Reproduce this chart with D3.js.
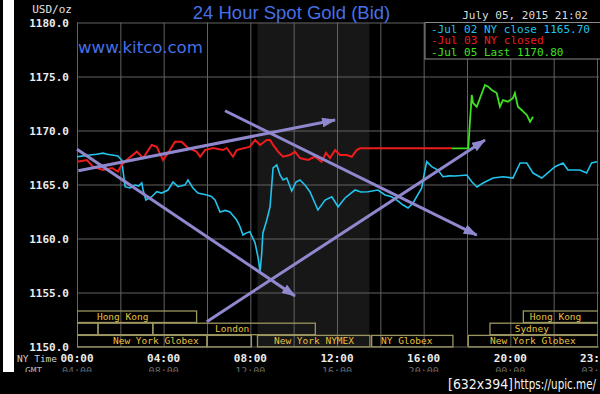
<!DOCTYPE html>
<html>
<head>
<meta charset="utf-8">
<script src="https://cdn.jsdelivr.net/npm/d3@7"></script>
<style>
  html, body { margin: 0; padding: 0; background: #000; }
  svg { display: block; }
</style>
</head>
<body>
<script>
const width = 600;
const height = 394;

// price axis and time axis
const priceTicks = [1150, 1155, 1160, 1165, 1170, 1175, 1180];
const gridHours = [0, 2, 4, 6, 8, 10, 12, 14, 16, 18, 20, 22, 24];
const timeTicks = [0, 4, 8, 12, 16, 20, 23.983];
const nyTimeLabels = ['00:00', '04:00', '08:00', '12:00', '16:00', '20:00', '23:59'];
const gmtLabels = ['04:00', '08:00', '12:00', '16:00', '20:00', '00:00', '03:59'];
const nymexHours = [8.33, 13.5];

// [hour (NY time), price]
const jul02 = [
  [0.00, 1167.57], [0.30, 1167.65], [0.60, 1167.73], [0.90, 1167.80], [1.20, 1167.90],
  [1.40, 1167.80], [1.62, 1167.73], [1.89, 1167.64], [2.06, 1167.27], [2.12, 1166.34],
  [2.22, 1164.80], [2.45, 1164.68], [2.68, 1164.95], [2.85, 1164.85], [2.99, 1165.14],
  [3.05, 1164.49], [3.18, 1163.56], [3.45, 1163.87], [3.68, 1164.33], [3.91, 1164.21],
  [4.20, 1164.49], [4.43, 1165.23], [4.66, 1164.80], [4.98, 1164.95], [5.12, 1165.42],
  [5.35, 1164.68], [5.58, 1164.21], [5.99, 1164.03], [6.20, 1163.90], [6.37, 1163.56],
  [6.60, 1162.45], [6.85, 1162.60], [7.06, 1162.45], [7.37, 1161.71], [7.50, 1161.20],
  [7.66, 1160.32], [7.80, 1160.50], [7.98, 1160.63], [8.22, 1159.58], [8.35, 1158.31],
  [8.45, 1156.99], [8.52, 1158.47], [8.58, 1160.51], [8.76, 1161.71], [8.91, 1162.94],
  [9.05, 1166.53], [9.22, 1166.81], [9.37, 1165.88], [9.51, 1165.42], [9.68, 1165.60],
  [9.91, 1164.40], [10.11, 1165.23], [10.29, 1165.42], [10.52, 1164.95], [10.75, 1164.33],
  [11.12, 1162.64], [11.45, 1163.56], [11.76, 1163.87], [12.05, 1162.94], [12.37, 1163.75],
  [12.83, 1164.49], [13.10, 1164.30], [13.43, 1164.33], [13.89, 1164.49], [14.22, 1164.03],
  [14.52, 1163.87], [14.76, 1163.56], [15.05, 1163.10], [15.28, 1162.82], [15.51, 1163.29],
  [15.91, 1164.68], [16.06, 1166.34], [16.14, 1167.11], [16.37, 1166.65], [16.66, 1166.34],
  [16.89, 1165.72], [17.20, 1165.80], [17.45, 1165.79], [17.99, 1165.88], [18.22, 1165.26],
  [18.46, 1164.77], [18.74, 1165.14], [19.20, 1165.60], [19.66, 1165.72], [20.12, 1165.60],
  [20.45, 1166.99], [20.76, 1166.99], [21.05, 1166.06], [21.45, 1165.60], [22.06, 1166.65],
  [22.43, 1166.99], [22.66, 1166.34], [23.21, 1166.34], [23.52, 1166.06], [23.75, 1166.99],
  [24.00, 1167.11]
];

const jul03 = [
  [0.00, 1167.11], [0.45, 1167.27], [0.74, 1166.65], [1.20, 1166.34], [1.62, 1166.53],
  [1.89, 1166.19], [2.06, 1166.81], [2.29, 1167.27], [2.76, 1168.04], [3.05, 1167.45],
  [3.45, 1168.66], [3.68, 1168.50], [3.97, 1167.27], [4.20, 1167.92], [4.52, 1168.96],
  [4.83, 1168.96], [5.12, 1168.38], [5.52, 1168.04], [5.68, 1167.57], [5.91, 1168.19],
  [6.28, 1168.38], [6.74, 1168.19], [6.91, 1168.38], [7.20, 1167.57], [7.37, 1168.19],
  [7.98, 1168.50], [8.22, 1169.12], [8.45, 1168.66], [8.76, 1169.12], [8.91, 1169.12],
  [9.05, 1168.66], [9.28, 1168.04], [9.51, 1167.57], [9.83, 1167.73], [10.06, 1168.04],
  [10.29, 1167.45], [10.66, 1167.27], [10.98, 1167.57], [11.29, 1167.11], [11.49, 1167.92],
  [11.68, 1167.45], [11.91, 1168.19], [12.14, 1167.73], [12.45, 1167.73], [12.68, 1167.57],
  [12.91, 1168.19], [13.06, 1168.35], [17.29, 1168.35]
];

const jul05 = [
  [17.29, 1168.35], [18.06, 1168.35], [18.14, 1170.97], [18.22, 1173.29], [18.28, 1172.55],
  [18.45, 1172.20], [18.60, 1173.00], [18.83, 1174.21], [18.98, 1174.06], [19.14, 1173.75],
  [19.37, 1173.47], [19.52, 1172.20], [19.66, 1172.82], [19.89, 1172.67], [20.12, 1173.00],
  [20.21, 1173.47], [20.35, 1172.20], [20.52, 1171.90], [20.76, 1171.44], [20.91, 1170.81],
  [21.05, 1171.28]
];

const legendLabels = ['-Jul 02 NY close 1165.70', '-Jul 03 NY closed', '-Jul 05 Last 1170.80'];
const legendColors = ['#22c3ec', '#ee1c1c', '#3fe022'];

// trading sessions: [row, start hour, end hour, label, label hour]
const sessions = [
  [0, 0, 5.52, 'Hong Kong', 0.92],
  [0, 20.6, 24.2, 'Hong Kong', 20.9],
  [1, 0, 0.97, '', 0],
  [1, 0.97, 3.5, '', 0],
  [1, 3.5, 11.0, 'London', 6.37],
  [1, 19.06, 24.2, 'Sydney', 20.2],
  [2, 0, 6.0, 'New York Globex', 1.66],
  [2, 6.0, 8.05, '', 0],
  [2, 8.33, 13.52, 'New York NYMEX', 9.09],
  [2, 13.6, 17.35, 'NY Globex', 14.03],
  [2, 18.06, 24.2, 'New York Globex', 19.06]
];

// hand drawn arrows: [start hour, start price, end hour, end price]
const arrows = [
  [0.06, 1166.28, 11.91, 1170.97],
  [0.00, 1168.26, 10.06, 1154.68],
  [6.83, 1171.83, 18.45, 1160.32],
  [5.99, 1152.30, 18.83, 1169.12]
];

const margin = { left: 77, right: 597, top: 22.5, bottom: 346.5 };

const x = d3.scaleLinear().domain([0, 24]).range([margin.left, margin.right]);
const y = d3.scaleLinear().domain([1150, 1180]).range([margin.bottom, margin.top]);

const svg = d3.select('body')
  .append('svg')
  .attr('width', width)
  .attr('height', height);

const mono = 'DejaVu Sans Mono, monospace';

// white strip on the left edge of the screenshot
svg.append('rect')
  .attr('x', 3).attr('y', 0)
  .attr('width', 11).attr('height', 372)
  .attr('fill', '#fff');

svg.append('defs').append('clipPath')
  .attr('id', 'plot')
  .append('rect')
  .attr('x', margin.left).attr('y', 0)
  .attr('width', margin.right - margin.left + 1).attr('height', height);

// NYMEX hours shading
svg.append('rect')
  .attr('x', x(nymexHours[0]))
  .attr('y', y(1180))
  .attr('width', x(nymexHours[1]) - x(nymexHours[0]))
  .attr('height', y(1150) - y(1180))
  .attr('fill', '#171717');

// grid
svg.append('g')
  .attr('transform', `translate(0,${margin.bottom})`)
  .call(d3.axisBottom(x).tickValues(gridHours).tickSize(-(margin.bottom - margin.top)).tickFormat(''))
  .call(g => g.select('.domain').remove())
  .call(g => g.selectAll('line').attr('stroke', '#626262'));

svg.append('g')
  .attr('transform', `translate(${margin.left},0)`)
  .call(d3.axisLeft(y).tickValues(priceTicks).tickSize(-(margin.right - margin.left + 2)).tickFormat(''))
  .call(g => g.select('.domain').remove())
  .call(g => g.selectAll('line').attr('stroke', '#626262'));

// price labels
svg.append('g')
  .attr('transform', `translate(${margin.left - 5},0)`)
  .call(d3.axisLeft(y).tickValues(priceTicks).tickSize(0).tickFormat(d3.format('.1f')))
  .call(g => g.select('.domain').remove())
  .call(g => g.selectAll('text')
    .attr('fill', '#ececec')
    .attr('font-family', mono)
    .attr('font-weight', 'bold')
    .attr('font-size', 11));

svg.append('text')
  .attr('x', 72).attr('y', 13)
  .attr('text-anchor', 'end')
  .attr('fill', '#e2e2e2')
  .attr('font-family', mono)
  .attr('font-size', 11)
  .text('USD/oz');

// sessions
const rowTop = r => 311 + r * 12.2;
const sess = svg.append('g').attr('clip-path', 'url(#plot)');
sess.selectAll('rect')
  .data(sessions)
  .join('rect')
  .attr('x', d => x(d[1]))
  .attr('y', d => rowTop(d[0]))
  .attr('width', d => x(d[2]) - x(d[1]))
  .attr('height', 11.5)
  .attr('fill', 'none')
  .attr('stroke', '#9c9660')
  .attr('stroke-width', 1.3);
sess.selectAll('text')
  .data(sessions.filter(d => d[3]))
  .join('text')
  .attr('x', d => x(d[4]))
  .attr('y', d => rowTop(d[0]) + 9)
  .attr('fill', '#e8c040')
  .attr('font-family', mono)
  .attr('font-size', 9.5)
  .text(d => d[3]);

// price lines
const line = d3.line().x(d => x(d[0])).y(d => y(d[1]));
const plot = svg.append('g').attr('clip-path', 'url(#plot)');
plot.append('path').datum(jul02)
  .attr('d', line).attr('fill', 'none')
  .attr('stroke', legendColors[0]).attr('stroke-width', 1.6);
plot.append('path').datum(jul03)
  .attr('d', line).attr('fill', 'none')
  .attr('stroke', legendColors[1]).attr('stroke-width', 2);
plot.append('path').datum(jul05)
  .attr('d', line).attr('fill', 'none')
  .attr('stroke', legendColors[2]).attr('stroke-width', 1.8);

// arrows
svg.select('defs').append('marker')
  .attr('id', 'head')
  .attr('markerUnits', 'userSpaceOnUse')
  .attr('viewBox', '0 0 14 10')
  .attr('refX', 13).attr('refY', 5)
  .attr('markerWidth', 14).attr('markerHeight', 10)
  .attr('orient', 'auto')
  .append('path')
  .attr('d', 'M0,0 L14,5 L0,10 Z')
  .attr('fill', '#8f88cf');

svg.append('g').selectAll('line')
  .data(arrows)
  .join('line')
  .attr('x1', d => x(d[0])).attr('y1', d => y(d[1]))
  .attr('x2', d => x(d[2])).attr('y2', d => y(d[3]))
  .attr('stroke', '#8f88cf')
  .attr('stroke-width', 3)
  .attr('marker-end', 'url(#head)');

// legend
svg.append('rect')
  .attr('x', 425).attr('y', margin.top)
  .attr('width', 180).attr('height', 36.5)
  .attr('fill', '#000')
  .attr('stroke', '#8a8a8a');
svg.append('g').selectAll('text')
  .data(legendLabels)
  .join('text')
  .attr('x', 431)
  .attr('y', (d, i) => 32.5 + i * 11.8)
  .attr('fill', (d, i) => legendColors[i])
  .attr('font-family', mono)
  .attr('font-size', 11)
  .text(d => d);

// titles
svg.append('text')
  .attr('x', 291.5).attr('y', 19)
  .attr('text-anchor', 'middle')
  .attr('fill', '#4670e6')
  .attr('font-family', 'Liberation Sans, Arial, sans-serif')
  .attr('font-size', 18.5)
  .text('24 Hour Spot Gold (Bid)');

svg.append('text')
  .attr('x', 78).attr('y', 53)
  .attr('fill', '#4670e6')
  .attr('font-family', 'DejaVu Sans, sans-serif')
  .attr('font-size', 16.6)
  .text('www.kitco.com');

svg.append('text')
  .attr('x', 588).attr('y', 18.5)
  .attr('text-anchor', 'end')
  .attr('fill', '#dcdcdc')
  .attr('font-family', mono)
  .attr('font-size', 11)
  .text('July 05, 2015 21:02');

// time labels
svg.append('g').selectAll('text')
  .data(timeTicks)
  .join('text')
  .attr('x', d => x(d))
  .attr('y', 362)
  .attr('text-anchor', 'middle')
  .attr('fill', '#ececec')
  .attr('font-family', mono)
  .attr('font-weight', 'bold')
  .attr('font-size', 11)
  .text((d, i) => nyTimeLabels[i]);

svg.append('g').selectAll('text')
  .data(timeTicks)
  .join('text')
  .attr('x', d => x(d))
  .attr('y', 375)
  .attr('text-anchor', 'middle')
  .attr('fill', '#6a6a6a')
  .attr('font-family', mono)
  .attr('font-size', 10)
  .text((d, i) => gmtLabels[i]);

svg.append('text')
  .attr('x', 17).attr('y', 362)
  .attr('fill', '#d0d0d0')
  .attr('font-family', mono)
  .attr('font-size', 9.5)
  .text('NY Time');

svg.append('text')
  .attr('x', 25).attr('y', 374)
  .attr('fill', '#b0b0b0')
  .attr('font-family', mono)
  .attr('font-size', 9.5)
  .text('GMT');

// screenshot bottom band and watermark
svg.append('rect')
  .attr('x', 0).attr('y', 372)
  .attr('width', width).attr('height', height - 372)
  .attr('fill', '#000');

svg.append('text')
  .attr('x', 448).attr('y', 389)
  .attr('fill', '#f4f4f4')
  .attr('font-family', 'DejaVu Sans Condensed, DejaVu Sans, sans-serif')
  .attr('font-size', 14)
  .attr('textLength', 65)
  .attr('lengthAdjust', 'spacingAndGlyphs')
  .text('[632x394]');

svg.append('text')
  .attr('x', 514).attr('y', 389)
  .attr('fill', '#f4f4f4')
  .attr('font-family', 'DejaVu Sans Condensed, DejaVu Sans, sans-serif')
  .attr('font-size', 14)
  .attr('textLength', 82)
  .attr('lengthAdjust', 'spacingAndGlyphs')
  .text('https://upic.me/');
</script>
</body>
</html>
